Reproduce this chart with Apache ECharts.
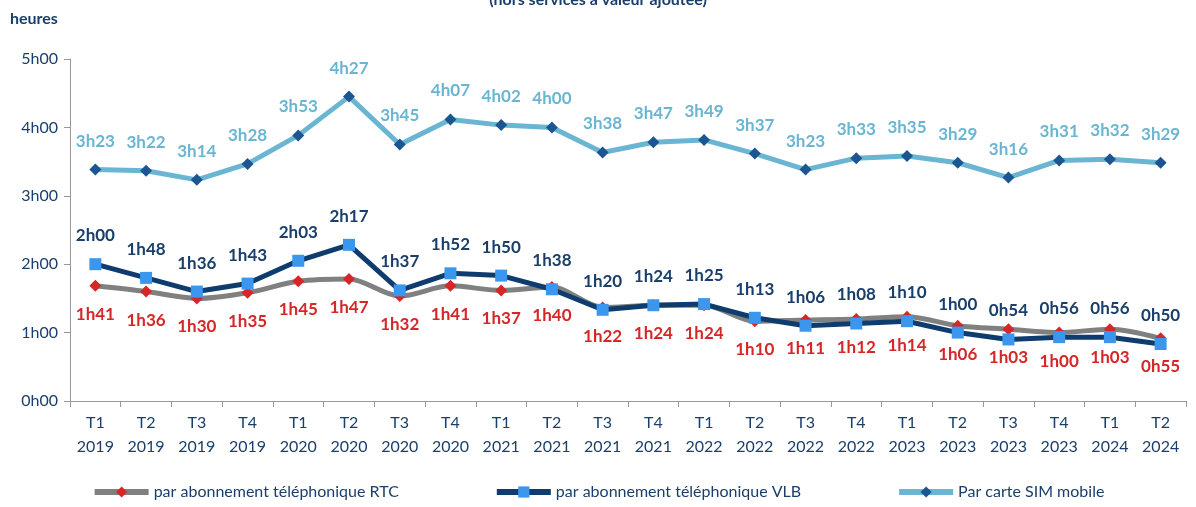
<!DOCTYPE html>
<html>
<head>
<meta charset="utf-8">
<script src="https://cdn.jsdelivr.net/npm/echarts@6/dist/echarts.min.js"></script>
<style>
html,body{margin:0;padding:0;background:#fff;}
#chart{width:1196px;height:507px;}
</style>
</head>
<body>
<div id="chart"></div>
<script>
// minutes par trimestre
var quarters = ['T1','T2','T3','T4','T1','T2','T3','T4','T1','T2','T3','T4','T1','T2','T3','T4','T1','T2','T3','T4','T1','T2'];
var years = ['2019','2019','2019','2019','2020','2020','2020','2020','2021','2021','2021','2021','2022','2022','2022','2022','2023','2023','2023','2023','2024','2024'];
var rtc = [101,96,90,95,105,107,92,101,97,100,82,84,84,70,71,72,74,66,63,60,63,55];
var vlb = [120,108,96,103,123,137,97,112,110,98,80,84,85,73,66,68,70,60,54,56,56,50];
var sim = [203,202,194,208,233,267,225,247,242,240,218,227,229,217,203,213,215,209,196,211,212,209];
var names = ['par abonnement téléphonique RTC','par abonnement téléphonique VLB','Par carte SIM mobile'];

var navy = '#1a3f6b';
var font = 'Lato';

function hm(v){
    var m = v % 60;
    return Math.floor(v/60) + 'h' + (m < 10 ? '0' + m : m);
}

var chart = echarts.init(document.getElementById('chart'));
chart.setOption({
    animation:false,
    textStyle:{fontFamily:font},
    title:{
        text:'(hors services à valeur ajoutée)',
        left:'center',
        top:-13,
        textStyle:{color:navy,fontSize:16,fontWeight:'bold',fontFamily:font}
    },
    graphic:[{
        type:'text',left:10,top:11,
        style:{text:'heures',fill:navy,font:'bold 16px '+font}
    }],
    legend:{
        bottom:2,
        left:'center',
        itemGap:95,
        itemWidth:54,
        itemHeight:14,
        lineStyle:{width:6},
        textStyle:{color:navy,fontSize:16,fontFamily:font},
        data:names
    },
    grid:{left:70,right:10,top:59,bottom:106},
    xAxis:{
        type:'category',
        data:quarters.map(function(q,i){return q+'\n'+years[i];}),
        axisLine:{lineStyle:{color:'#999'}},
        axisTick:{show:true,length:6,lineStyle:{color:'#999'}},
        axisLabel:{color:navy,fontSize:16,lineHeight:24,margin:10,fontFamily:font}
    },
    yAxis:{
        type:'value',
        min:0,max:300,interval:60,
        splitLine:{show:false},
        axisLine:{show:true,lineStyle:{color:'#999'}},
        axisTick:{show:true,length:6,lineStyle:{color:'#999'}},
        axisLabel:{color:navy,fontSize:16,margin:12,fontFamily:font,formatter:function(v){return hm(v);}}
    },
    series:[{
        name:names[0],
        type:'line',
        smooth:0.3,
        data:rtc,
        symbol:'diamond',
        symbolSize:12,
        z:2,
        lineStyle:{color:'#808080',width:5},
        itemStyle:{color:'#d62728'},
        label:{show:true,position:'bottom',distance:14,color:'#d62728',fontWeight:'bold',fontSize:17,fontFamily:font,
            formatter:function(p){return hm(p.value);}}
    },{
        name:names[1],
        type:'line',
        data:vlb,
        symbol:'rect',
        symbolSize:12,
        z:3,
        lineStyle:{color:'#0f3c6e',width:5},
        itemStyle:{color:'#3b97ee'},
        label:{show:true,position:'top',distance:14,color:navy,fontWeight:'bold',fontSize:17,fontFamily:font,
            formatter:function(p){return hm(p.value);}}
    },{
        name:names[2],
        type:'line',
        data:sim,
        symbol:'diamond',
        symbolSize:12,
        z:4,
        lineStyle:{color:'#6ab6d2',width:5},
        itemStyle:{color:'#1b5592'},
        label:{show:true,position:'top',distance:14,color:'#6ab6d2',fontWeight:'bold',fontSize:17,fontFamily:font,
            formatter:function(p){return hm(p.value);}}
    }]
});
</script>
</body>
</html>
